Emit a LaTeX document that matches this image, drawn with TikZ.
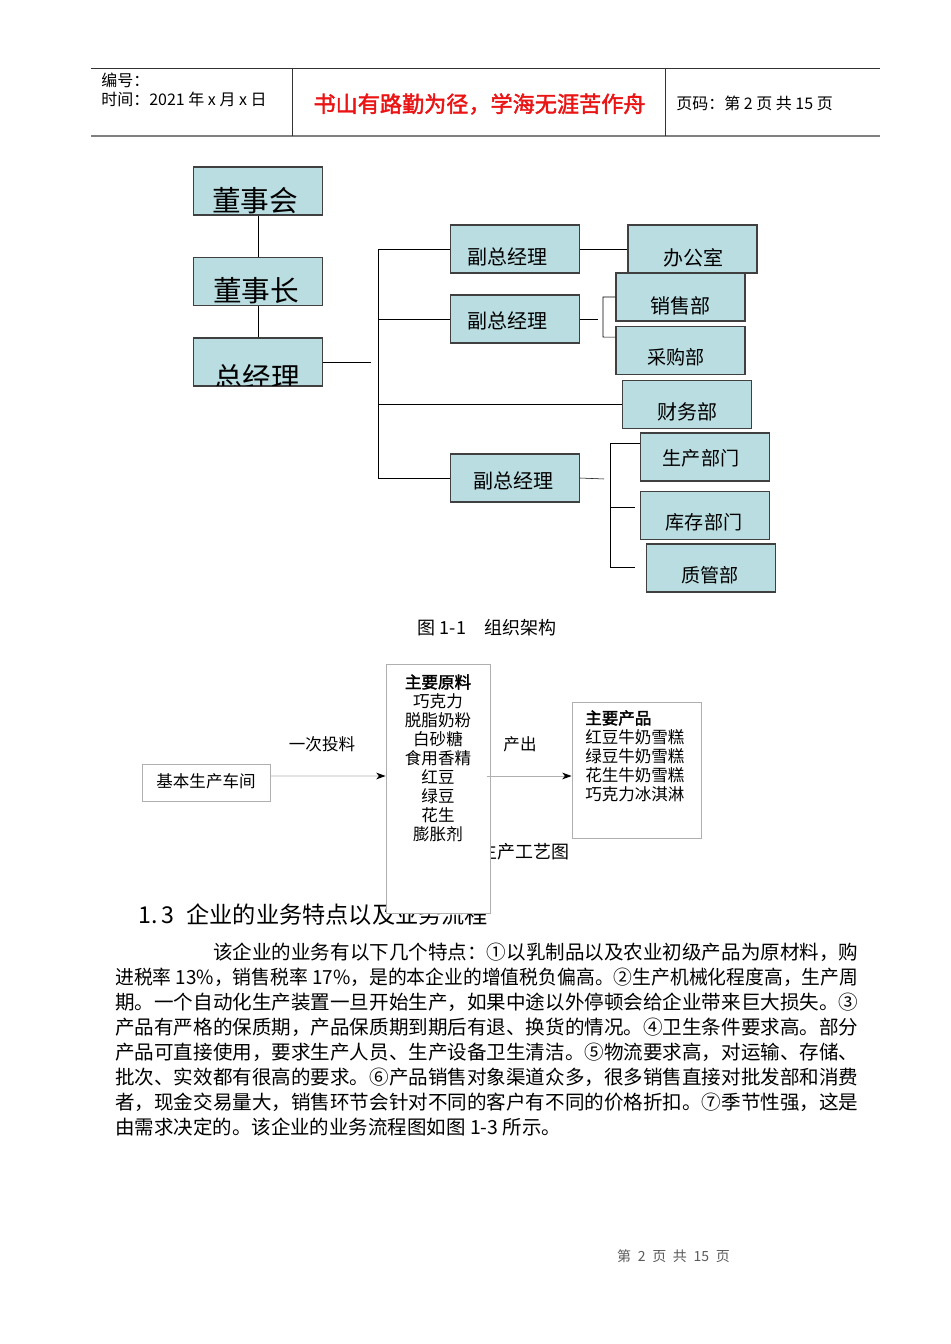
\documentclass[tikz,border=0pt]{standalone}
\usepackage{fontspec}
\usepackage{graphicx}
\setmainfont{Noto Sans CJK SC}[AutoFakeBold=2]
\usetikzlibrary{arrows.meta}
\definecolor{boxcyan}{RGB}{185,221,225}
\definecolor{boxline}{RGB}{64,64,64}
\definecolor{flowgray}{RGB}{175,175,175}
\definecolor{hdrred}{RGB}{235,20,20}
\definecolor{footgray}{RGB}{90,90,90}
\newcommand{\fsz}[1]{\fontsize{#1pt}{#1pt}\selectfont}
\newcommand{\fullline}[1]{\resizebox{557.25pt}{\height}{#1}}
\tikzset{
  orgbox/.style={draw=boxline, line width=1.1pt, fill=boxcyan,
    minimum width=96.75pt, minimum height=36pt, inner sep=0pt},
  orglbl/.style={inner sep=0pt, font=\fsz{15}},
  deptlbl/.style={inner sep=0pt, font=\fsz{14.3}},
  toplbl/.style={inner sep=0pt, font=\fsz{21.5}},
  flowbox/.style={draw=flowgray, line width=0.6pt, fill=white, inner sep=0pt},
  flowtxt/.style={inner sep=0pt, font=\fsz{12.4}},
  bodyline/.style={inner sep=0pt, anchor=west, font=\fsz{14.6}},
  flowarrow/.style={draw=flowgray, line width=0.6pt,
    -{Stealth[length=7pt,width=5pt,inset=2pt,black]}}
}
\begin{document}
\begin{tikzpicture}[x=0.75pt, y=-0.75pt]
% page
\useasboundingbox (0,0) rectangle (950,1344);
% header
\draw[line width=0.7pt, black!80] (91,68) -- (880,68);
\draw[line width=1.4pt, black!50] (91,136) -- (880,136);
\draw[line width=0.7pt, black!80] (292,68) -- (292,136);
\draw[line width=0.7pt, black!80] (665,68) -- (665,136);
\node[inner sep=0pt, anchor=west, font=\fsz{12}] (hdrno) at (101,80) {编号：};
\node[inner sep=0pt, anchor=west, font=\fsz{12}] (hdrtime) at (101,99) {时间：2021 年 x 月 x 日};
\node[inner sep=0pt, font=\fsz{16.6}\bfseries, text=hdrred] (hdrmotto) at (479.5,104) {书山有路勤为径，学海无涯苦作舟};
\node[inner sep=0pt, anchor=west, font=\fsz{12}] (hdrpage) at (676,103) {页码：第 2 页 共 15 页};

% org chart boxes
\node[orgbox] (dsh) at (258,191) {};
\node[orgbox] (dsz) at (258,281.5) {};
\node[orgbox] (zjl) at (258,362) {};
\node[orgbox] (fz1) at (515,249) {};
\node[orgbox] (fz2) at (515,319) {};
\node[orgbox] (fz3) at (515,478) {};
\node[orgbox] (bgs) at (692.5,249) {};
\node[orgbox] (xsb) at (680.5,297) {};
\node[orgbox] (cgb) at (680.5,350.5) {};
\node[orgbox] (cwb) at (687,404.5) {};
\node[orgbox] (scb) at (705,457) {};
\node[orgbox] (kcb) at (705,515.5) {};
\node[orgbox] (zgb) at (711,568) {};
% labels in the boxes
\node[toplbl] (dsh-t) at (255,201) {董事会};
\node[toplbl] (dsz-t) at (256,291) {董事长};
\begin{scope}
  \clip (193,338) rectangle (323,385);
  \node[toplbl] (zjl-t) at (257,377) {总经理};
\end{scope}
\node[orglbl] (fz1-t) at (507,257) {副总经理};
\node[orglbl] (fz2-t) at (507,321) {副总经理};
\node[orglbl] (fz3-t) at (513,481) {副总经理};
\node[orglbl] (bgs-t) at (693,258) {办公室};
\node[orglbl] (xsb-t) at (680,306) {销售部};
\node[deptlbl] (cgb-t) at (676,357) {采购部};
\node[orglbl] (cwb-t) at (687,412) {财务部};
\node[deptlbl] (scb-t) at (701,458) {生产部门};
\node[deptlbl] (kcb-t) at (704,522) {库存部门};
\node[deptlbl] (zgb-t) at (710,575) {质管部};
% connectors
\coordinate (bus) at (378,0);
\coordinate (zjl-end) at (371,362);
\coordinate (fz2-end) at (598,319);
\coordinate (brk2) at (603,0);
\coordinate (fz3-end) at (604,479);
\coordinate (brk3) at (610,0);
\coordinate (kcb-end) at (635,507);
\coordinate (zgb-end) at (635,567);
\draw (dsh.south) -- (dsz.north);
\draw (dsz.south) -- (zjl.north);
\draw (zjl.east) -- (zjl-end);
\draw (fz1.west) -| (bus |- fz3.west) -- (fz3.west);
\draw (bus |- fz2.west) -- (fz2.west);
\draw (bus |- cwb.west) -- (cwb.west);
\draw (fz1.east) -- (bgs.west);
\draw (fz2.east) -- (fz2-end);
\draw (xsb.west) -| (brk2 |- 0,337) -- ([yshift=10pt]cgb.west);
\draw (fz3.east) -- (fz3-end);
\draw ([yshift=10.5pt]scb.west) -| (brk3 |- zgb-end) -- (zgb-end);
\draw (brk3 |- kcb-end) -- (kcb-end);
\node[inner sep=0pt, font=\fsz{13.5}] (cap1) at (487,628) {图 1-1　组织架构};

% production flow
\node[inner sep=0pt, font=\fsz{17.4}, anchor=west] (sec13) at (138,915)
  {1.\hspace{3pt}3\hspace{9pt}企业的业务特点以及业务流程};
\node[inner sep=0pt, font=\fsz{13.5}, anchor=east] (cap2) at (570,852) {图 1-2 生产工艺图};
\node[flowbox, minimum width=96pt, minimum height=27.75pt] (bjc) at (206,782.5) {};
\node[flowtxt] (bjc-t) at (206,781) {基本生产车间};
\node[flowbox, minimum width=78pt, minimum height=186.75pt] (yl) at (438,788.5) {};
\node[flowbox, minimum width=96.75pt, minimum height=102pt] (cp) at (636.5,770) {};
\node[flowtxt] (yl-t) at (438,682) {\bfseries 主要原料};
\foreach \txt [count=\i] in {巧克力,脱脂奶粉,白砂糖,食用香精,红豆,绿豆,花生,膨胀剂}
  \node[flowtxt] (yl-\i) at (438,682+19*\i) {\txt};
\node[flowtxt, anchor=west] (cp-t) at (585,718) {\bfseries 主要产品};
\foreach \txt [count=\i] in {红豆牛奶雪糕,绿豆牛奶雪糕,花生牛奶雪糕,巧克力冰淇淋}
  \node[flowtxt, anchor=west] (cp-\i) at (585,718+19*\i) {\txt};
\draw[flowarrow] ([yshift=4.9pt]bjc.east) -- (yl.west |- 0,776);
\draw[flowarrow] (487,776) -- (cp.west |- 0,776);
\node[flowtxt] (tl) at (322,744) {一次投料};
\node[flowtxt] (cc) at (520,744) {产出};

% body text
\node[bodyline] (p1) at (213,952) {\resizebox{483.75pt}{\height}{该企业的业务有以下几个特点：①以乳制品以及农业初级产品为原材料，购}};
\node[bodyline] (p2) at (115,977) {\fullline{进税率 13\%，销售税率 17\%，是的本企业的增值税负偏高。②生产机械化程度高，生产周}};
\node[bodyline] (p3) at (115,1002) {\fullline{期。一个自动化生产装置一旦开始生产，如果中途以外停顿会给企业带来巨大损失。③}};
\node[bodyline] (p4) at (115,1027) {\fullline{产品有严格的保质期，产品保质期到期后有退、换货的情况。④卫生条件要求高。部分}};
\node[bodyline] (p5) at (115,1052) {\fullline{产品可直接使用，要求生产人员、生产设备卫生清洁。⑤物流要求高，对运输、存储、}};
\node[bodyline] (p6) at (115,1077) {\fullline{批次、实效都有很高的要求。⑥产品销售对象渠道众多，很多销售直接对批发部和消费}};
\node[bodyline] (p7) at (115,1102) {\fullline{者，现金交易量大，销售环节会针对不同的客户有不同的价格折扣。⑦季节性强，这是}};
\node[bodyline] (p8) at (115,1127) {由需求决定的。该企业的业务流程图如图 1-3 所示。};

% footer
\node[inner sep=0pt, font=\fsz{10.5}, text=footgray] (foot) at (673.5,1256)
  {第\hspace{5pt}2\hspace{5pt}页\hspace{5pt}共\hspace{5pt}15\hspace{5pt}页};
\end{tikzpicture}
\end{document}
